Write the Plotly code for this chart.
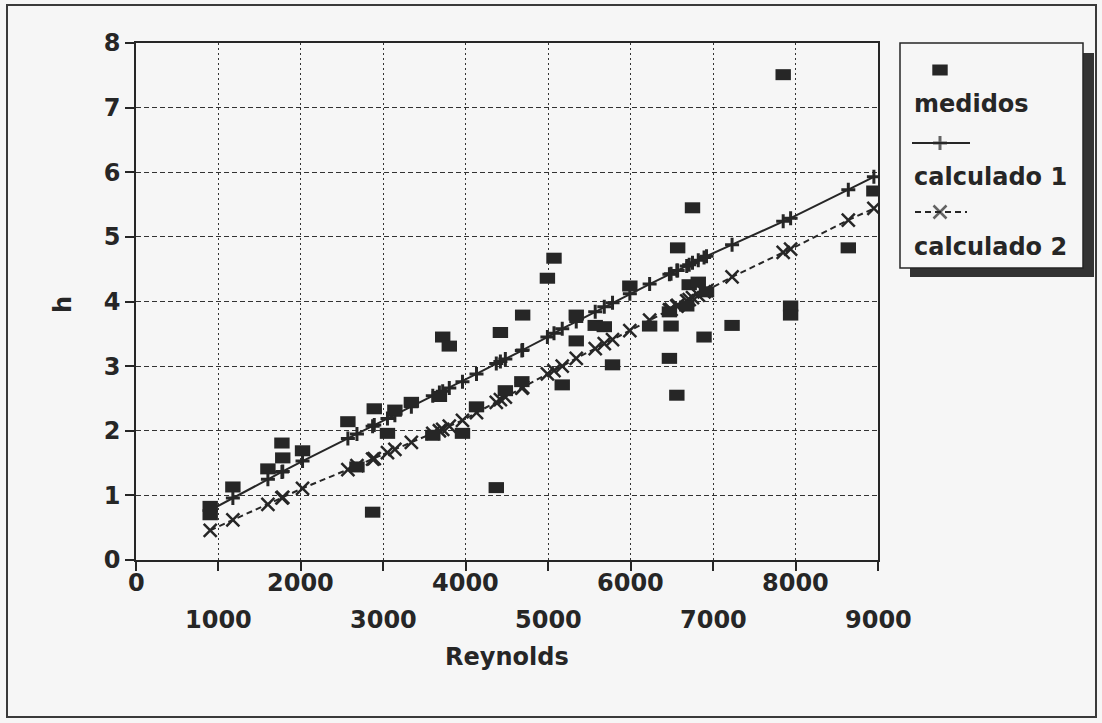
import plotly.graph_objects as go

# ---------------- data ----------------
reynolds_medidos = [900, 900, 1175, 1600, 1770, 1780, 2020, 2570, 2680, 2870,
                    2890, 3050, 3140, 3340, 3600, 3680, 3720, 3800, 3960, 4130,
                    4370, 4420, 4480, 4680, 4690, 4990, 5070, 5170, 5340, 5340,
                    5570, 5680, 5780, 5990, 6230, 6470, 6470, 6490, 6560, 6570,
                    6680, 6710, 6750, 6820, 6890, 6920, 7230, 7850, 7940, 7940,
                    8640, 8950]
h_medidos = [0.83, 0.70, 1.13, 1.41, 1.81, 1.58, 1.69, 2.14, 1.44, 0.74,
             2.34, 1.96, 2.32, 2.44, 1.93, 2.53, 3.45, 3.31, 1.96, 2.37,
             1.12, 3.52, 2.62, 2.76, 3.79, 4.36, 4.67, 2.71, 3.79, 3.39,
             3.63, 3.61, 3.02, 4.24, 3.62, 3.12, 3.84, 3.62, 2.55, 4.83,
             3.93, 4.26, 5.45, 4.30, 3.45, 4.15, 3.63, 7.51, 3.93, 3.79,
             4.83, 5.71]

reynolds_calc = [900, 1175, 1600, 1770, 1780, 2020, 2570, 2680, 2870, 2890,
                 3050, 3140, 3340, 3600, 3680, 3720, 3800, 3960, 4130, 4370,
                 4420, 4480, 4680, 4690, 4990, 5070, 5170, 5340, 5570, 5680,
                 5780, 5990, 6230, 6470, 6490, 6560, 6570, 6680, 6710, 6750,
                 6820, 6890, 6920, 7230, 7850, 7940, 8640, 8950]
h_calculado1 = [0.77, 0.96, 1.25, 1.36, 1.37, 1.53, 1.88, 1.95, 2.07, 2.09,
                2.19, 2.24, 2.37, 2.54, 2.59, 2.61, 2.66, 2.76, 2.88, 3.04,
                3.07, 3.11, 3.24, 3.25, 3.45, 3.51, 3.58, 3.69, 3.84, 3.92,
                3.98, 4.12, 4.27, 4.42, 4.43, 4.48, 4.48, 4.55, 4.57, 4.60,
                4.64, 4.68, 4.70, 4.88, 5.24, 5.29, 5.73, 5.93]
h_calculado2 = [0.46, 0.62, 0.86, 0.96, 0.97, 1.11, 1.40, 1.46, 1.56, 1.57,
                1.66, 1.71, 1.82, 1.96, 2.00, 2.02, 2.07, 2.16, 2.28, 2.44,
                2.48, 2.52, 2.66, 2.67, 2.88, 2.93, 3.00, 3.12, 3.27, 3.35,
                3.41, 3.55, 3.71, 3.87, 3.88, 3.93, 3.94, 4.01, 4.03, 4.06,
                4.10, 4.15, 4.17, 4.38, 4.76, 4.81, 5.26, 5.44]

series_names = ["medidos", "calculado 1", "calculado 2"]
x_tick_values = [0, 1000, 2000, 3000, 4000, 5000, 6000, 7000, 8000, 9000]
x_tick_labels = ["0", "1000", "2000", "3000", "4000", "5000", "6000", "7000", "8000", "9000"]
y_tick_values = [0, 1, 2, 3, 4, 5, 6, 7, 8]
x_title = "Reynolds"
y_title = "h"

# ---------------- layout geometry (pixels) ----------------
W, H = 1102, 723
L, R, T, B = 136, 878, 43, 560
INK = "#262626"
PAPER = "#f6f6f6"
FONT = "DejaVu Sans"
TXT = dict(family=FONT, size=24, color=INK, weight="bold")


def px(x):
    return x / W


def py(y):
    return 1 - y / H


square_marker = dict(symbol="line-ew", size=11, line=dict(width=11, color=INK), color=INK)
calc1_marker = dict(symbol="cross-thin", size=10, line=dict(width=3, color=INK), color=INK)
calc2_marker = dict(symbol="x-thin", size=13, line=dict(width=2.5, color=INK), color=INK)

fig = go.Figure()
fig.add_trace(go.Scatter(x=reynolds_calc, y=h_calculado1, mode="lines+markers",
                         name=series_names[1], line=dict(color=INK, width=2),
                         marker=calc1_marker, showlegend=False))
fig.add_trace(go.Scatter(x=reynolds_calc, y=h_calculado2, mode="lines+markers",
                         name=series_names[2], line=dict(color=INK, width=2, dash="6px,4px"),
                         marker=calc2_marker, showlegend=False))
fig.add_trace(go.Scatter(x=reynolds_medidos, y=h_medidos, mode="markers",
                         name=series_names[0], marker=square_marker, showlegend=False))

# ---- hand-drawn legend (samples in a small pixel-space axis) ----
LX0, LX1, LY0, LY1 = 900, 1083, 43, 268
fig.add_trace(go.Scatter(x=[940], y=[70], mode="markers", marker=square_marker,
                         xaxis="x3", yaxis="y3", showlegend=False, hoverinfo="skip"))
fig.add_trace(go.Scatter(x=[912, 940, 970], y=[143, 143, 143], mode="lines+markers",
                         line=dict(color=INK, width=2),
                         marker=dict(calc1_marker, size=[0, 10, 0]),
                         xaxis="x3", yaxis="y3", showlegend=False, hoverinfo="skip"))
fig.add_trace(go.Scatter(x=[915, 940, 967], y=[212, 212, 212], mode="lines+markers",
                         line=dict(color=INK, width=2, dash="6px,4px"),
                         marker=dict(calc2_marker, size=[0, 13, 0]),
                         xaxis="x3", yaxis="y3", showlegend=False, hoverinfo="skip"))

annotations = []
legend_text_y = [104, 177, 247]
for name, ty in zip(series_names, legend_text_y):
    annotations.append(dict(text=name, x=px(912), y=py(ty), xref="paper", yref="paper",
                            xanchor="left", yanchor="middle", showarrow=False, font=TXT))

# staggered x tick labels
for i, (v, lab) in enumerate(zip(x_tick_values, x_tick_labels)):
    annotations.append(dict(text=lab, x=v, y=py(583 if i % 2 == 0 else 620),
                            xref="x", yref="paper", xanchor="center", yanchor="middle",
                            showarrow=False, font=TXT))

annotations.append(dict(text=x_title, x=(L + R) / 2 / W, y=py(657), xref="paper", yref="paper",
                        xanchor="center", yanchor="middle", showarrow=False, font=TXT))
annotations.append(dict(text=y_title, x=px(63), y=py(305), xref="paper", yref="paper",
                        xanchor="center", yanchor="middle", textangle=-90, showarrow=False,
                        font=TXT))

shapes = [
    # outer frame of the figure
    dict(type="rect", xref="paper", yref="paper", x0=px(7), x1=px(1096), y0=py(717), y1=py(5),
         line=dict(color="#3a3a3a", width=2), layer="below"),
    # legend shadow + box
    dict(type="rect", xref="paper", yref="paper", x0=px(LX0 + 10), x1=px(LX1 + 11),
         y0=py(LY1 + 9), y1=py(LY0 + 10), fillcolor="#333333", line=dict(width=0), layer="below"),
    dict(type="rect", xref="paper", yref="paper", x0=px(LX0), x1=px(LX1),
         y0=py(LY1), y1=py(LY0), fillcolor=PAPER, line=dict(color=INK, width=1.5), layer="below"),
]

fig.update_layout(
    template="none",
    width=W, height=H, autosize=False,
    margin=dict(l=0, r=0, t=0, b=0, pad=0),
    paper_bgcolor=PAPER, plot_bgcolor="rgba(0,0,0,0)",
    font=TXT,
    showlegend=False,
    xaxis=dict(domain=[px(L), px(R)], range=[0, 9000], tickvals=x_tick_values,
               showticklabels=False, ticks="outside", ticklen=9, tickwidth=1.5, tickcolor=INK,
               showline=True, linewidth=1.5, linecolor=INK, mirror=True, automargin=False,
               showgrid=True, gridcolor="#333333", gridwidth=1.4, griddash="2px,3px",
               zeroline=False, fixedrange=True),
    yaxis=dict(domain=[py(B), py(T)], range=[0, 8], tickvals=y_tick_values,
               ticks="outside", ticklen=9, tickwidth=1.5, tickcolor=INK, tickfont=TXT,
               showline=True, linewidth=1.5, linecolor=INK, mirror=True, automargin=False,
               showgrid=True, gridcolor="#333333", gridwidth=1.4, griddash="5px,3px",
               zeroline=False, fixedrange=True),
    xaxis3=dict(domain=[px(LX0), px(LX1)], range=[LX0, LX1], visible=False,
                fixedrange=True, automargin=False),
    yaxis3=dict(domain=[py(LY1), py(LY0)], range=[LY1, LY0], visible=False,
                fixedrange=True, automargin=False),
    annotations=annotations,
    shapes=shapes,
)

fig.write_html("out.html", config={"displayModeBar": False},
               post_script="document.body.style.margin='0';")
